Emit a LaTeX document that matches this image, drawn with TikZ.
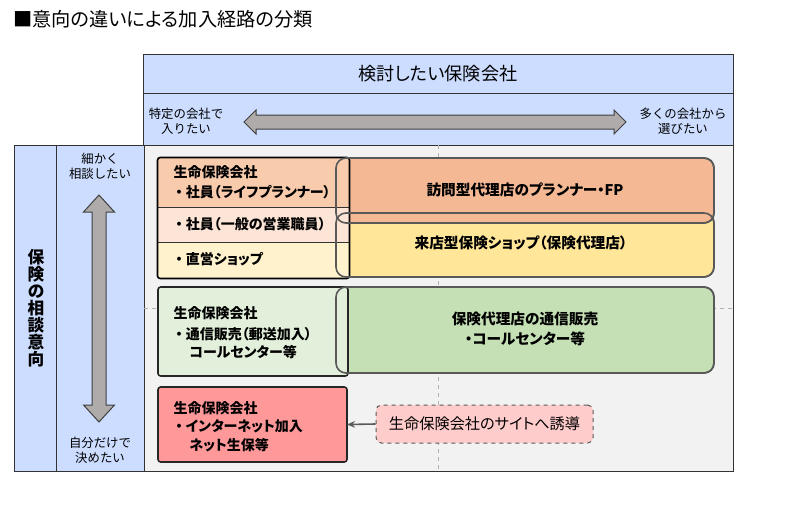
\documentclass[tikz,border=0pt]{standalone}
\usepackage{fontspec}
\setmainfont{Noto Sans CJK JP}[RawFeature=+palt]
\newfontfamily\widejp{Noto Sans CJK JP}
\usetikzlibrary{arrows.meta}

\definecolor{hdrblue}{RGB}{204,221,255}
\definecolor{areagray}{RGB}{242,242,242}
\definecolor{visitfill}{RGB}{244,185,148}
\definecolor{shopfill}{RGB}{255,230,153}
\definecolor{mailfill}{RGB}{197,224,180}
\definecolor{rowone}{RGB}{248,203,173}
\definecolor{rowtwo}{RGB}{252,228,214}
\definecolor{rowthree}{RGB}{255,242,204}
\definecolor{lightgreen}{RGB}{226,239,218}
\definecolor{netred}{RGB}{255,153,153}
\definecolor{sitepink}{RGB}{255,204,204}
\definecolor{arrowgray}{RGB}{175,171,171}
\definecolor{edgegray}{RGB}{89,89,89}

\tikzset{every picture/.style={line width=0.75pt}}
\tikzset{
  cell/.style={draw=black!80, line width=0.75pt, inner sep=0pt, outer sep=0pt},
  rbox/.style={draw=edgegray, line width=1.2pt, rounded corners=7.5pt, inner sep=0pt, outer sep=0pt},
  cobox/.style={draw=black!85, line width=1.2pt, rounded corners=2pt, inner sep=0pt, outer sep=0pt},
  bigarrow/.style={draw=black!75, fill=arrowgray, line width=0.75pt},
  small/.style={font=\widejp\fontsize{9.3}{11.5}\selectfont, align=center},
  boxtext/.style={font=\fontsize{10.5}{12}\selectfont\bfseries},
  midtext/.style={font=\fontsize{11}{15}\selectfont\bfseries, align=center}
}
\newcommand{\dotsp}{・\hspace{2.5pt}}

\begin{document}
\begin{tikzpicture}[x=0.75pt,y=0.75pt,yscale=-1,xscale=1]
    \useasboundingbox (0,0) rectangle (791,507);

    % Text Node
    \draw (12,19) node (title) [anchor=west][inner sep=0.75pt] [font=\fontsize{14.4}{16}\selectfont] {■意向の違いによる加入経路の分類};

    %Shape: Rectangle (header)
    \node (header) [cell, fill=hdrblue, minimum width=442.5pt, minimum height=29.25pt] at (438,73.5) {};
    %Shape: Rectangle (scale row)
    \node (scalerow) [cell, fill=hdrblue, minimum width=442.5pt, minimum height=39pt] at (438,119) {};
    %Shape: Rectangle (left columns)
    \node (leftcol) [cell, fill=hdrblue, minimum width=31.5pt, minimum height=244.5pt] at (35,308) {};
    \node (scalecol) [cell, fill=hdrblue, minimum width=66pt, minimum height=244.5pt] at (100,308) {};
    %Shape: Rectangle (main area)
    \node (mainarea) [cell, fill=areagray, minimum width=441.75pt, minimum height=244.5pt] at (438.5,308) {};

    %Straight Lines (dashed guides)
    \draw [black!30, dashed, line width=0.6pt] (438,145) -- (438,471) ;
    \draw [black!30, dashed, line width=0.6pt] (144,308) -- (733,308) ;

    %Shape: Double arrows
    \draw [bigarrow] (244,122) -- (256,110) -- (256,115) -- (614,115) -- (614,110) -- (626,122) -- (614,134) -- (614,129) -- (256,129) -- (256,134) -- cycle ;
    \draw [bigarrow] (99,195) -- (114.5,212) -- (106,212) -- (106,405) -- (114.5,405) -- (99,422) -- (83.5,405) -- (92,405) -- (92,212) -- (83.5,212) -- cycle ;

    %Shape: Rounded Rectangle (agency boxes)
    \node (shop) [rbox, fill=shopfill, minimum width=283.5pt, minimum height=48pt] at (525,245) {};
    \node (visit) [rbox, fill=visitfill, minimum width=283.5pt, minimum height=48.75pt] at (525,190.5) {};
    \node (mail) [rbox, fill=mailfill, minimum width=283.5pt, minimum height=64.5pt] at (525,330) {};

    %Shape: Rectangle (insurer, three rows)
    \node (rowA) [inner sep=0pt, fill=rowone, minimum width=143.25pt, minimum height=36.75pt] at (253.5,182.5) {};
    \node (rowB) [inner sep=0pt, fill=rowtwo, minimum width=143.25pt, minimum height=26.25pt] at (253.5,224.5) {};
    \node (rowC) [inner sep=0pt, fill=rowthree, minimum width=143.25pt, minimum height=27pt] at (253.5,260) {};
    \draw [black!80, line width=0.5pt] (rowA.south west) -- (rowA.south east) ;
    \draw [black!80, line width=0.5pt] (rowB.south west) -- (rowB.south east) ;
    \draw [black, line width=1.2pt, rounded corners=2pt] (rowA.north west) rectangle (rowC.south east) ;

    %Shape: Rectangle (insurer, direct)
    \node (direct) [cobox, fill=lightgreen, minimum width=142.5pt, minimum height=66.75pt] at (253,331.5) {};
    %Shape: Rectangle (insurer, online)
    \node (online) [cobox, fill=netred, minimum width=141.75pt, minimum height=56.25pt] at (252.5,424.5) {};

    %Outlines of agency boxes over the insurer boxes
    \draw [edgegray, line width=1.2pt, rounded corners=7.5pt] (visit.north west) rectangle (visit.south east) ;
    \draw [edgegray, line width=1.2pt, rounded corners=7.5pt] (shop.north west) rectangle (shop.south east) ;
    \draw [edgegray, line width=1.2pt, rounded corners=7.5pt] (mail.north west) rectangle (mail.south east) ;

    %Shape: Rounded Rectangle (dashed)
    \node (site) [draw=edgegray, dashed, fill=sitepink, line width=0.75pt, rounded corners=4pt, minimum width=162.75pt, minimum height=28.5pt, font=\fontsize{11.4}{13}\selectfont] at (484.5,424) {生命保険会社のサイトへ誘導};

    %Straight Lines
    \draw [edgegray, line width=1.2pt, -{Stealth[length=6pt,width=5pt]}] (site.west) -- (online.east) ;

    % Text Node
    \draw (438,74) node (hdrtext) [inner sep=0.75pt] [font=\fontsize{13.6}{15}\selectfont] {検討したい保険会社};
    % Text Node
    \draw (186,121) node (specific) [inner sep=0.75pt] [small] {特定の会社で\\入りたい};
    % Text Node
    \draw (683,121) node (many) [inner sep=0.75pt] [small] {多くの会社から\\選びたい};
    % Text Node
    \draw (100,166) node (consult) [inner sep=0.75pt] [small] {細かく\\相談したい};
    % Text Node
    \draw (100,450) node (alone) [inner sep=0.75pt] [small] {自分だけで\\決めたい};
    % Text Node
    \draw (36,308) node (intent) [inner sep=0.75pt] [align=center, font=\fontsize{12.5}{12.75}\selectfont\bfseries] {保\\険\\の\\相\\談\\意\\向};

    % Text Node
    \draw (172,172) node (lifeA) [anchor=west][inner sep=0.75pt] [boxtext] {生命保険会社};
    % Text Node
    \draw (174,192) node (planner) [anchor=west][inner sep=0.75pt] [boxtext] {\dotsp 社員（ライフプランナー）};
    % Text Node
    \draw (174,224) node (staff) [anchor=west][inner sep=0.75pt] [boxtext] {\dotsp 社員（一般の営業職員）};
    % Text Node
    \draw (174,259) node (ownshop) [anchor=west][inner sep=0.75pt] [boxtext] {\dotsp 直営ショップ};
    % Text Node
    \draw (172,313) node (lifeB) [anchor=west][inner sep=0.75pt] [boxtext] {生命保険会社};
    % Text Node
    \draw (174,334) node (mailorder) [anchor=west][inner sep=0.75pt] [boxtext] {\dotsp 通信販売（郵送加入）};
    % Text Node
    \draw (188,352) node (callB) [anchor=west][inner sep=0.75pt] [boxtext] {コールセンター等};
    % Text Node
    \draw (172,408) node (lifeC) [anchor=west][inner sep=0.75pt] [boxtext] {生命保険会社};
    % Text Node
    \draw (174,426) node (netjoin) [anchor=west][inner sep=0.75pt] [boxtext] {\dotsp インターネット加入};
    % Text Node
    \draw (188,445) node (netlife) [anchor=west][inner sep=0.75pt] [boxtext] {ネット生保等};

    % Text Node
    \draw (525,190) node (visittext) [inner sep=0.75pt] [midtext] {訪問型代理店のプランナー・FP};
    % Text Node
    \draw (521,243) node (shoptext) [inner sep=0.75pt] [midtext] {来店型保険ショップ（保険代理店）};
    % Text Node
    \draw (525,329) node (mailtext) [inner sep=0.75pt] [midtext] {保険代理店の通信販売\\・コールセンター等};
\end{tikzpicture}
\end{document}
